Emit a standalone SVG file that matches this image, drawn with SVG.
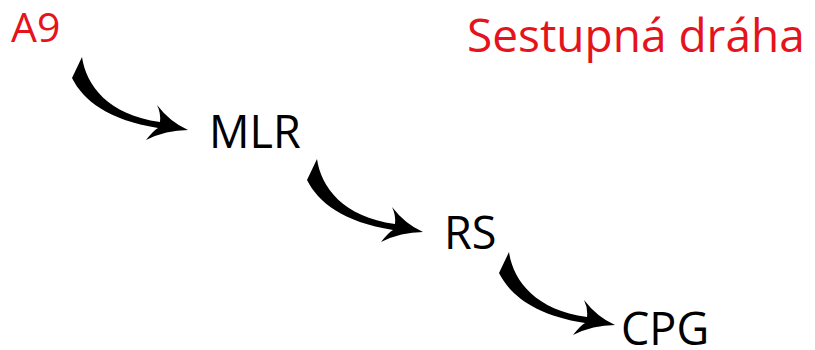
<svg xmlns="http://www.w3.org/2000/svg" xmlns:xlink="http://www.w3.org/1999/xlink" width="815" height="350" viewBox="0 0 815 350">
<style>
.lbl{font-family:"Open Sans","Liberation Sans",sans-serif;font-size:45px;fill:#000}
.red{fill:#e5141c}
</style>
<defs>
<path id="arr" d="M -106,-73 C -102,-45 -80,-15 -28,-8 Q -27,-17 -31,-25 Q -18,-8 0,0 Q -22,0 -42,10 Q -34,0 -30,-2 C -80,-10 -105,-30 -116,-52 Z" fill="#000"/>
</defs>
<rect width="815" height="350" fill="#fff"/>
<g id="connectors">
<use xlink:href="#arr" transform="translate(188,130)"/>
<use xlink:href="#arr" transform="translate(423,232)"/>
<use xlink:href="#arr" transform="translate(615,325)"/>
</g>
<g id="A9"><text class="lbl red" x="11" y="42" style="font-size:41px">A9</text></g>
<g id="MLR"><text class="lbl" x="209" y="148">MLR</text></g>
<g id="RS"><text class="lbl" x="444" y="249">RS</text></g>
<g id="CPG"><text class="lbl" x="621" y="345">CPG</text></g>
<g id="title"><text class="lbl red" x="467" y="52" style="font-size:46px">Sestupná dráha</text></g>
</svg>
